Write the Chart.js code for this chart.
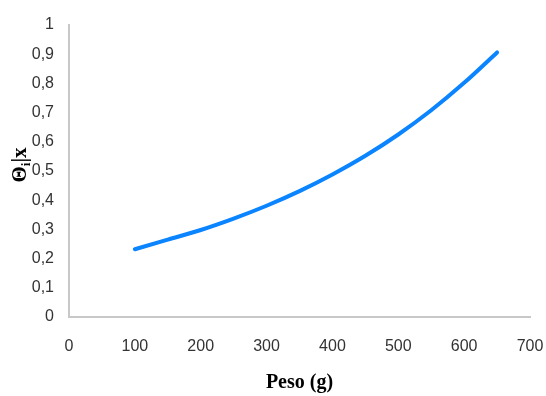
<!DOCTYPE html>
<html>
<head>
<meta charset="utf-8">
<script src="https://cdn.jsdelivr.net/npm/chart.js@4.4.0/dist/chart.umd.min.js"></script>
<style>
    html, body { margin: 0; padding: 0; background: #ffffff; }
    #wrap { width: 546px; height: 396px; }
</style>
</head>
<body>
<div id="wrap"><canvas id="chart" width="546" height="396"></canvas></div>
<script>
// Values
const pesoValues = [100, 150, 200, 250, 300, 350, 400, 450, 500, 550, 600, 650];
const thetaValues = [0.232, 0.265, 0.298, 0.337, 0.381, 0.431, 0.488, 0.552, 0.625, 0.708, 0.802, 0.906];
const xTicks = [0, 100, 200, 300, 400, 500, 600, 700];
const yTicks = [0, 0.1, 0.2, 0.3, 0.4, 0.5, 0.6, 0.7, 0.8, 0.9, 1];
const xTitle = "Peso (g)";
const yTitleMain = "Θ";
const yTitleSub = "i";
const yTitleRest = "|x";

const tickFont = { family: "'Liberation Sans', Arial, sans-serif", size: 16 };
const titleFamily = "'Liberation Serif', 'Times New Roman', serif";

// Draw rotated y title with subscript
const yTitlePlugin = {
    id: "yTitle",
    afterDraw(chart) {
        const ctx = chart.ctx;
        const area = chart.chartArea;
        ctx.save();
        ctx.translate(21, (area.top + area.bottom) / 2 - 6);
        ctx.rotate(-Math.PI / 2);
        ctx.fillStyle = "#000000";
        ctx.textBaseline = "middle";
        ctx.font = "bold 21px " + titleFamily;
        const w1 = ctx.measureText(yTitleMain).width;
        ctx.font = "bold 13px " + titleFamily;
        const w2 = ctx.measureText(yTitleSub).width;
        ctx.font = "bold 21px " + titleFamily;
        const w3 = ctx.measureText(yTitleRest).width;
        let x = -(w1 + w2 + w3) / 2;
        ctx.fillText(yTitleMain, x, 0);
        x += w1;
        ctx.font = "bold 13px " + titleFamily;
        ctx.fillText(yTitleSub, x, 6);
        x += w2;
        ctx.font = "bold 21px " + titleFamily;
        ctx.fillText(yTitleRest, x, 0);
        ctx.restore();
    }
};

const points = pesoValues.map((p, i) => ({ x: p, y: thetaValues[i] }));

new Chart(document.getElementById("chart"), {
    type: "scatter",
    data: {
        datasets: [{
            data: points,
            showLine: true,
            borderColor: "#0a84ff",
            backgroundColor: "#0a84ff",
            borderWidth: 4,
            borderCapStyle: "round",
            pointRadius: 0,
            cubicInterpolationMode: "monotone"
        }]
    },
    options: {
        responsive: false,
        animation: false,
        layout: { padding: { left: 0, right: 0, top: 25, bottom: 0 } },
        plugins: {
            legend: { display: false },
            tooltip: { enabled: false }
        },
        scales: {
            x: {
                type: "linear",
                min: xTicks[0],
                max: xTicks[xTicks.length - 1],
                afterBuildTicks: s => { s.ticks = xTicks.map(v => ({ value: v })); },
                afterFit: s => { s.height = 79; s.paddingRight = 16; },
                grid: { display: false, drawTicks: false },
                border: { display: true, color: "#c8c8c8", width: 2 },
                ticks: { color: "#333333", font: tickFont, padding: 20, maxRotation: 0 },
                title: {
                    display: true,
                    text: xTitle,
                    color: "#000000",
                    font: { family: titleFamily, size: 20, weight: "bold" },
                    padding: { top: 0, bottom: 1 }
                }
            },
            y: {
                min: yTicks[0],
                max: yTicks[yTicks.length - 1],
                afterBuildTicks: s => { s.ticks = yTicks.map(v => ({ value: v })); },
                afterFit: s => { s.width = 69; },
                grid: { display: false, drawTicks: false },
                border: { display: true, color: "#c8c8c8", width: 2 },
                ticks: {
                    color: "#333333",
                    font: tickFont,
                    padding: 15,
                    callback: v => String(Math.round(v * 10) / 10).replace(".", ",")
                }
            }
        }
    },
    plugins: [yTitlePlugin]
});
</script>
</body>
</html>
